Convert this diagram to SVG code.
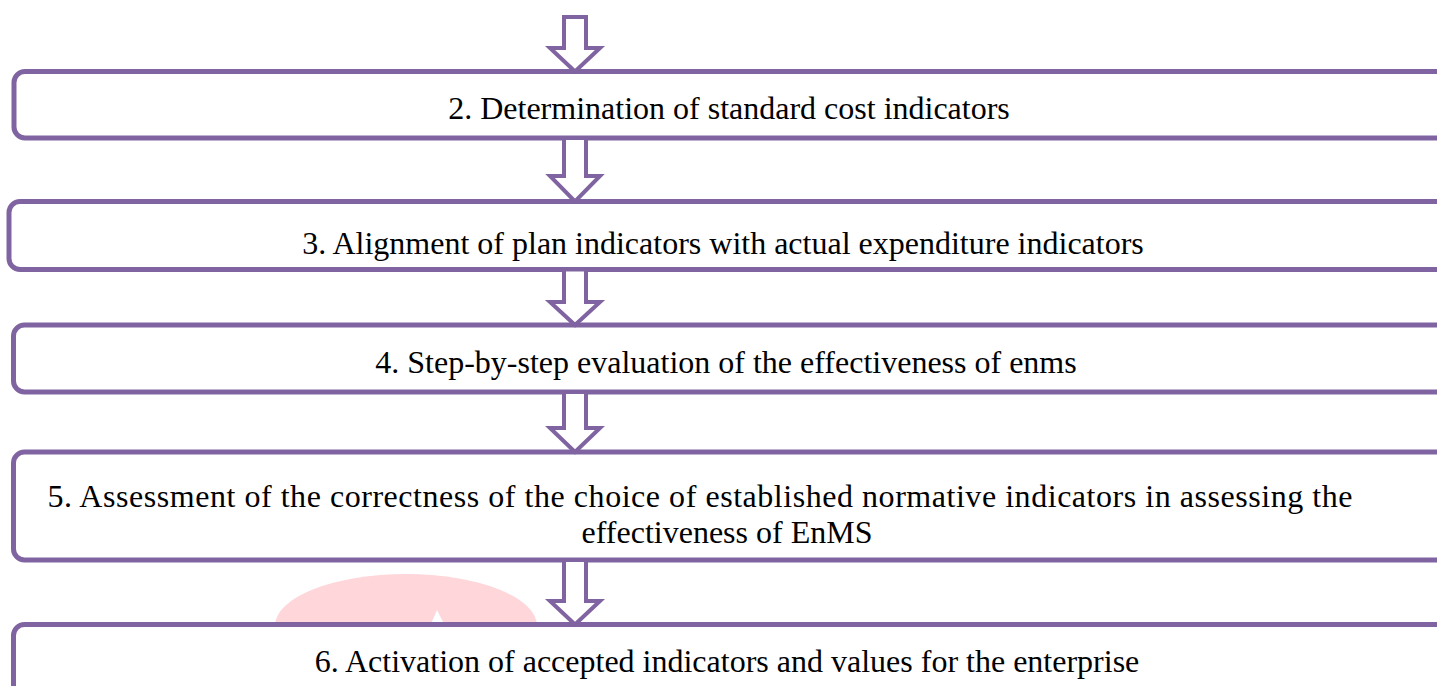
<svg xmlns="http://www.w3.org/2000/svg" width="1437" height="686" viewBox="0 0 1437 686">
  <style>
    .box { fill: #ffffff; stroke: #8064A2; stroke-width: 5; }
    .arrow { fill: #ffffff; stroke: #8064A2; stroke-width: 4; stroke-linejoin: miter; }
    .label { font-family: "Liberation Serif", "Times New Roman", serif; font-size: 32px; fill: #000000; text-anchor: middle; }
  </style>
  <rect width="1437" height="686" fill="#ffffff"/>

  <!-- faint background emblem -->
  <g id="emblem">
    <path d="M275,626 A131,52 0 0 1 537,626 Z" fill="#FFD6DA"/>
    <path d="M437,610 L430,626 L445,626 Z" fill="#ffffff"/>
  </g>

  <g id="step2">
    <rect class="box" x="14" y="71.5" width="1450" height="66.5" rx="11"/>
    <text class="label" x="729" y="119">2. Determination of standard cost indicators</text>
  </g>
  <g id="step3">
    <rect class="box" x="9" y="201.5" width="1450" height="68" rx="11"/>
    <text class="label" x="723" y="254">3. Alignment of plan indicators with actual expenditure indicators</text>
  </g>
  <g id="step4">
    <rect class="box" x="13.5" y="325" width="1450" height="67" rx="11"/>
    <text class="label" x="726" y="373">4. Step-by-step evaluation of the effectiveness of enms</text>
  </g>
  <g id="step5">
    <rect class="box" x="13.5" y="452" width="1450" height="108" rx="11"/>
    <text class="label" x="700" y="507" textLength="1305" lengthAdjust="spacing">5. Assessment of the correctness of the choice of established normative indicators in assessing the</text>
    <text class="label" x="727" y="543">effectiveness of EnMS</text>
  </g>
  <g id="step6">
    <rect class="box" x="13.5" y="624.5" width="1450" height="80" rx="11"/>
    <text class="label" x="727" y="672">6. Activation of accepted indicators and values for the enterprise</text>
  </g>

  <g id="connectors">
    <polygon class="arrow" points="564,17 586,17 586,48 600,48 575,71.5 550,48 564,48"/>
    <polygon class="arrow" points="564,138 586,138 586,176 600,176 575,201.5 550,176 564,176"/>
    <polygon class="arrow" points="564,269.5 586,269.5 586,302 600,302 575,325 550,302 564,302"/>
    <polygon class="arrow" points="564,392 586,392 586,428 600,428 575,452 550,428 564,428"/>
    <polygon class="arrow" points="564,560 586,560 586,601 600,601 575,624.5 550,601 564,601"/>
  </g>
</svg>
